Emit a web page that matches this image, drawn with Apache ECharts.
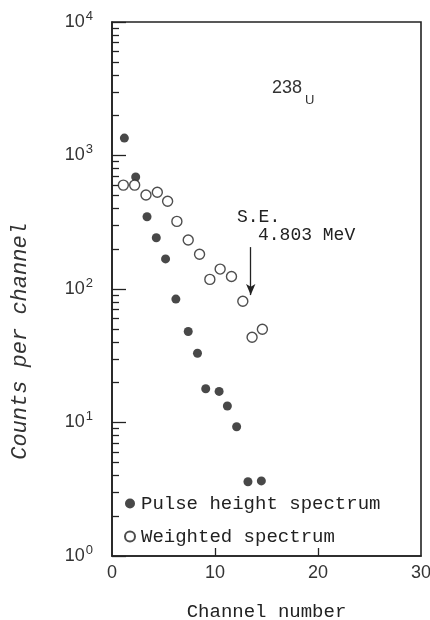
<!DOCTYPE html>
<html>
<head>
<meta charset="utf-8">
<script src="https://cdn.jsdelivr.net/npm/echarts@6/dist/echarts.min.js"></script>
<style>
  html, body { margin: 0; padding: 0; background: #fff; }
  #chart { width: 430px; height: 620px; }
</style>
</head>
<body>
<div id="chart"></div>
<script>
// Pulse height spectrum (filled circles)
const pulseChannels = [1.2, 2.3, 3.4, 4.3, 5.2, 6.2, 7.4, 8.3, 9.1, 10.4, 11.2, 12.1, 13.2, 14.5];
const pulseCounts   = [1350, 690, 348, 242, 168, 84, 48, 33, 17.9, 17.1, 13.3, 9.3, 3.6, 3.65];

// Weighted spectrum (open circles)
const weightedChannels = [1.1, 2.2, 3.3, 4.4, 5.4, 6.3, 7.4, 8.5, 9.5, 10.5, 11.6, 12.7, 13.6, 14.6];
const weightedCounts   = [600, 600, 506, 530, 454, 321, 233, 182, 118, 141, 124, 81, 43.5, 50];

// Single-escape peak arrow (channel, counts at tail and head)
const seArrowChannel = 13.47;
const seArrowFrom = 206;
const seArrowTo = 90;

// Axis tick values
const xTickLabels = [0, 10, 20, 30];
const yDecades = [1, 10, 100, 1000, 10000];
const yMinorTicks = [];
for (let d = 1; d <= 1000; d *= 10) {
  for (let m = 2; m <= 9; m++) yMinorTicks.push(m * d);
}

const ink = '#222';
const mono = '"Liberation Mono", "DejaVu Sans Mono", monospace';
const sans = '"Liberation Sans", Arial, sans-serif';

const chart = echarts.init(document.getElementById('chart'), null, { renderer: 'canvas' });

chart.setOption({
  animation: false,
  backgroundColor: '#fff',
  grid: {
    left: 112, right: 9, top: 22, bottom: 64,
    outerBoundsMode: 'none',
    containLabel: false,
    show: true, borderColor: ink, borderWidth: 1.6, backgroundColor: 'transparent'
  },
  legend: {
    orient: 'vertical',
    left: 124,
    top: 494,
    itemWidth: 10,
    itemHeight: 10,
    itemGap: 14,
    padding: 0,
    textStyle: { fontFamily: mono, fontSize: 19, color: ink, padding: [0, 0, 0, 1] },
    data: ['Pulse height spectrum', 'Weighted spectrum']
  },
  xAxis: {
    type: 'value',
    min: 0,
    max: 30,
    interval: 10,
    name: 'Channel number',
    nameLocation: 'middle',
    nameGap: 46,
    nameTextStyle: { fontFamily: mono, fontSize: 19, color: ink },
    axisLine: { show: true, lineStyle: { color: ink, width: 1.6 } },
    axisTick: { show: true, inside: true, length: 8, lineStyle: { color: ink, width: 1.3 }, customValues: [10, 20] },
    axisLabel: { fontFamily: sans, fontSize: 18, color: '#333', margin: 8, customValues: xTickLabels },
    splitLine: { show: false }
  },
  yAxis: [
    {
      type: 'log',
      logBase: 10,
      min: 1,
      max: 10000,
      axisLine: { show: true, lineStyle: { color: ink, width: 1.6 } },
      axisTick: { show: true, inside: true, length: 14, lineStyle: { color: ink, width: 1.3 }, customValues: yDecades },
      axisLabel: {
        margin: 19,
        customValues: yDecades,
        formatter: function (v) {
          return '{b|10}{s|' + Math.round(Math.log10(v)) + '}';
        },
        rich: {
          b: { fontFamily: sans, fontSize: 18, color: '#333' },
          s: { fontFamily: sans, fontSize: 13, color: '#333', padding: [0, 0, 12, 1] }
        }
      },
      splitLine: { show: false }
    },
    {
      type: 'log',
      logBase: 10,
      min: 1,
      max: 10000,
      position: 'left',
      offset: 0,
      axisLine: { show: false },
      axisTick: { show: true, inside: true, length: 7, lineStyle: { color: ink, width: 1.3 }, customValues: yMinorTicks },
      axisLabel: { show: false },
      splitLine: { show: false }
    }
  ],
  series: [
    {
      name: 'Pulse height spectrum',
      type: 'scatter',
      symbol: 'circle',
      symbolSize: 9,
      itemStyle: { color: '#1a1a1a' },
      data: pulseChannels.map((c, i) => [c, pulseCounts[i]])
    },
    {
      name: 'Weighted spectrum',
      type: 'scatter',
      symbol: 'circle',
      symbolSize: 10,
      itemStyle: { color: '#fff', borderColor: ink, borderWidth: 1.4 },
      data: weightedChannels.map((c, i) => [c, weightedCounts[i]]),
      markLine: {
        silent: true,
        symbol: ['none', 'arrow'],
        symbolSize: [7, 11],
        label: { show: false },
        lineStyle: { color: ink, width: 1.3, type: 'solid' },
        data: [[{ coord: [seArrowChannel, seArrowFrom] }, { coord: [seArrowChannel, seArrowTo] }]]
      }
    }
  ],
  graphic: [
    {
      type: 'text', x: 20, y: 341, rotation: Math.PI / 2,
      style: { text: 'Counts per channel', font: 'italic 22px ' + mono, fill: '#333', align: 'center', verticalAlign: 'middle' }
    },
    { type: 'text', left: 272, top: 79, style: { text: '238', font: '18px ' + sans, fill: '#333' } },
    { type: 'text', left: 305, top: 94, style: { text: 'U', font: '13px ' + sans, fill: '#333' } },
    { type: 'text', left: 237, top: 208, style: { text: 'S.E.', font: '18px ' + mono, fill: ink } },
    { type: 'text', left: 258, top: 226, style: { text: '4.803 MeV', font: '18px ' + mono, fill: ink } }
  ]
});
</script>
</body>
</html>
